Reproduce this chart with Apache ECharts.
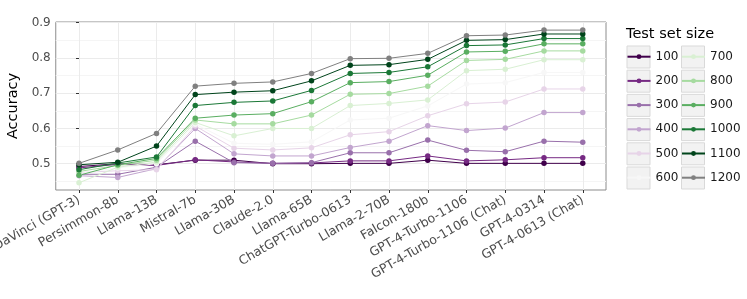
<!DOCTYPE html>
<html>
<head>
<meta charset="utf-8">
<script src="https://cdn.jsdelivr.net/npm/echarts@6/dist/echarts.min.js"></script>
<style>html,body{margin:0;padding:0;background:#fff;}#c{width:747px;height:299px;}</style>
</head>
<body>
<div id="c"></div>
<script>
const categories = ['DaVinci (GPT-3)','Persimmon-8b','Llama-13B','Mistral-7b','Llama-30B','Claude-2.0','Llama-65B','ChatGPT-Turbo-0613','Llama-2-70B','Falcon-180b','GPT-4-Turbo-1106','GPT-4-Turbo-1106 (Chat)','GPT-4-0314','GPT-4-0613 (Chat)'];
const sizeNames = ['100','200','300','400','500','600','700','800','900','1000','1100','1200'];
const acc100  = [0.492,0.500,0.497,0.510,0.510,0.500,0.500,0.501,0.501,0.510,0.501,0.501,0.501,0.501];
const acc200  = [0.488,0.498,0.495,0.511,0.505,0.501,0.502,0.508,0.508,0.522,0.508,0.511,0.517,0.517];
const acc300  = [0.470,0.470,0.490,0.564,0.503,0.501,0.503,0.531,0.531,0.567,0.538,0.534,0.564,0.561];
const acc400  = [0.466,0.461,0.486,0.600,0.528,0.522,0.522,0.546,0.564,0.608,0.594,0.601,0.645,0.645];
const acc500  = [0.475,0.480,0.483,0.607,0.544,0.539,0.545,0.582,0.591,0.636,0.670,0.675,0.712,0.712];
const acc600  = [0.472,0.488,0.500,0.612,0.558,0.555,0.562,0.624,0.629,0.664,0.726,0.730,0.759,0.759];
const acc700  = [0.446,0.490,0.505,0.617,0.579,0.600,0.600,0.665,0.671,0.681,0.764,0.768,0.795,0.795];
const acc800  = [0.478,0.495,0.510,0.624,0.613,0.613,0.638,0.697,0.699,0.720,0.793,0.796,0.820,0.820];
const acc900  = [0.467,0.497,0.515,0.629,0.638,0.642,0.676,0.730,0.733,0.751,0.817,0.819,0.840,0.840];
const acc1000 = [0.483,0.502,0.519,0.665,0.674,0.678,0.708,0.756,0.759,0.775,0.835,0.837,0.855,0.855];
const acc1100 = [0.497,0.504,0.550,0.696,0.703,0.707,0.735,0.779,0.781,0.796,0.850,0.852,0.868,0.868];
const acc1200 = [0.501,0.539,0.586,0.720,0.728,0.732,0.756,0.798,0.799,0.813,0.863,0.865,0.879,0.879];
const yTicks = [0.5,0.6,0.7,0.8,0.9];
const yMinorTicks = [0.45,0.55,0.65,0.75,0.85];

const allValues = [acc100,acc200,acc300,acc400,acc500,acc600,acc700,acc800,acc900,acc1000,acc1100,acc1200];
const colors = ['#40004b','#762a83','#9970ab','#c2a5cf','#e7d4e8','#f7f7f7','#d9f0d3','#a6dba0','#5aae61','#1b7837','#00441b','#808080'];
const xIdx = categories.map((c,i)=>i);

const series = sizeNames.map((n,k)=>({
  name: n, type: 'line', xAxisIndex: 0, yAxisIndex: 0,
  data: allValues[k].map((v,i)=>[i,v]),
  symbol: 'circle', symbolSize: 5.5,
  lineStyle: {width: 1, color: colors[k]},
  itemStyle: {color: colors[k]},
  emphasis: {disabled: true},
  animation: false
}));

const rowCenters = [0,1,2,3,4,5];
const keyBoxes = [];
[626.5, 681].forEach(x=>{
  rowCenters.forEach(r=>{
    keyBoxes.push({type:'rect', left: x, top: 45.5 + r*24.2, shape:{width:23, height:22}, style:{fill:'#f2f2f2', stroke:'#d9d9d9', lineWidth:1}, z:0, silent:true});
  });
});

const legendCommon = {
  orient: 'vertical', itemWidth: 23, itemHeight: 6, itemGap: 12.2, padding: 0,
  textStyle: {fontFamily: 'DejaVu Sans', fontSize: 12, color: '#1a1a1a'},
  selectedMode: false
};

const chart = echarts.init(document.getElementById('c'), null, {renderer: 'canvas'});
chart.setOption({
  animation: false,
  backgroundColor: '#ffffff',
  title: {text: 'Test set size', left: 626, top: 27, padding: 0,
    textStyle: {fontFamily: 'DejaVu Sans', fontSize: 14.5, fontWeight: 'normal', color: '#000'}},
  graphic: keyBoxes,
  legend: [
    Object.assign({}, legendCommon, {left: 626.5, top: 50.7, data: sizeNames.slice(0,6)}),
    Object.assign({}, legendCommon, {left: 681, top: 50.7, data: sizeNames.slice(6)})
  ],
  grid: {left: 55.75, top: 22, width: 550.25, height: 168, show: true, borderColor: '#8c8c8c', borderWidth: 1, backgroundColor: '#fff', outerBoundsMode: 'none'},
  xAxis: [{
    type: 'value', min: -0.6, max: 13.6,
    axisLine: {show: false},
    axisTick: {show: true, length: 3, lineStyle: {color: '#333'}, customValues: xIdx},
    axisLabel: {customValues: xIdx, rotate: 30, margin: 9, interval: 0,
      fontFamily: 'DejaVu Sans', fontSize: 12.5, color: '#4d4d4d',
      formatter: v => categories[Math.round(v)]},
    splitLine: {show: true, lineStyle: {color: '#ebebeb', width: 1}}
  }],
  yAxis: [{
    type: 'value', min: 0.4254, max: 0.902,
    name: 'Accuracy', nameLocation: 'middle', nameGap: 29,
    nameTextStyle: {fontFamily: 'DejaVu Sans', fontSize: 14.5, color: '#000'},
    axisLine: {show: false},
    axisTick: {show: true, length: 3, lineStyle: {color: '#333'}, customValues: yTicks},
    axisLabel: {customValues: yTicks, margin: 5, fontFamily: 'DejaVu Sans', fontSize: 12, color: '#4d4d4d',
      formatter: v => v.toFixed(1)},
    splitLine: {show: true, lineStyle: {color: '#ebebeb', width: 1}}
  },{
    type: 'value', min: 0.4254, max: 0.902, position: 'left',
    axisLine: {show: false}, axisLabel: {show: false},
    axisTick: {show: false, customValues: yMinorTicks},
    splitLine: {show: true, lineStyle: {color: '#f5f5f5', width: 1}}
  }],
  series: series
});
</script>
</body>
</html>
